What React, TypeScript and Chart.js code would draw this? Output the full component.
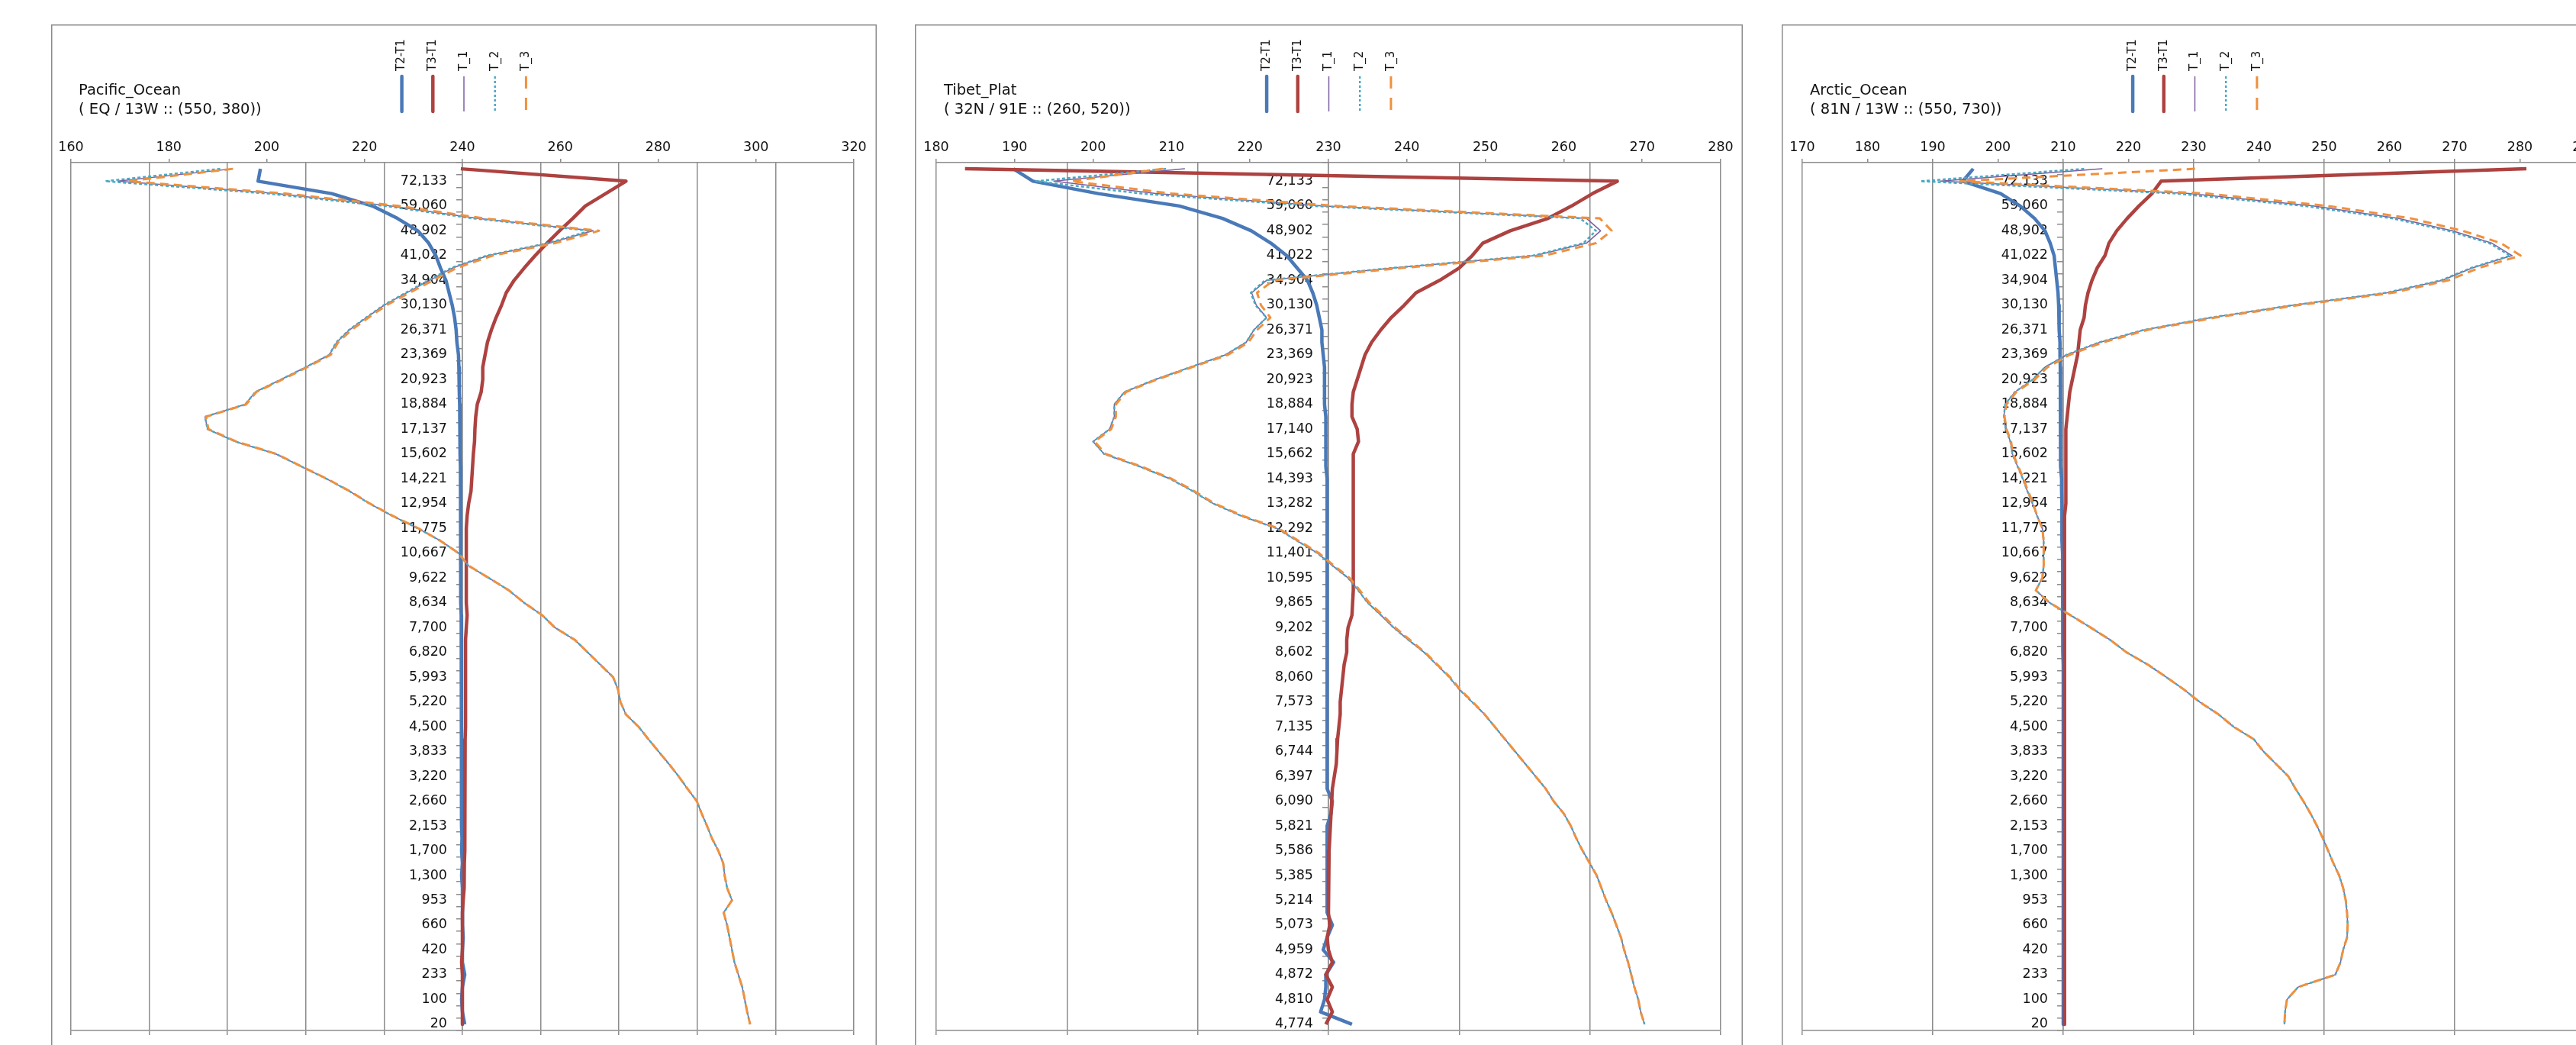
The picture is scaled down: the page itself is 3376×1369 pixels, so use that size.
import React, { useEffect, useRef } from "react";
import { Chart, registerables } from "chart.js";

Chart.register(...registerables);

const FONT = '"DejaVu Sans", Verdana, sans-serif';
const GRID = "#8c8c8c";
const TEXT = "#111111";
const BLUE = "#4a79b8";
const RED = "#ad4240";
const PURPLE = "#7d5fa0";
const CYAN = "#4aa8c2";
const ORANGE = "#f0903e";

// ---------- category tick labels (altitude, m) top -> bottom ----------
const pacificHeights = ["72,133","59,060","48,902","41,022","34,904","30,130","26,371","23,369","20,923","18,884","17,137","15,602","14,221","12,954","11,775","10,667","9,622","8,634","7,700","6,820","5,993","5,220","4,500","3,833","3,220","2,660","2,153","1,700","1,300","953","660","420","233","100","20"];
const tibetHeights = ["72,133","59,060","48,902","41,022","34,904","30,130","26,371","23,369","20,923","18,884","17,140","15,662","14,393","13,282","12,292","11,401","10,595","9,865","9,202","8,602","8,060","7,573","7,135","6,744","6,397","6,090","5,821","5,586","5,385","5,214","5,073","4,959","4,872","4,810","4,774"];
const arcticHeights = ["72,133","59,060","48,902","41,022","34,904","30,130","26,371","23,369","20,923","18,884","17,137","15,602","14,221","12,954","11,775","10,667","9,622","8,634","7,700","6,820","5,993","5,220","4,500","3,833","3,220","2,660","2,153","1,700","1,300","953","660","420","233","100","20"];

// ---------- Pacific_Ocean ----------
const pacT1 = [193.1,169.6,202.0,225.3,243.0,266.7,257.8,245.3,238.0,233.3,
228.6,224.0,220.4,216.9,214.3,212.8,208.0,202.9,197.7,195.6,
187.4,187.9,193.6,201.9,207.0,212.2,216.9,221.0,225.7,230.9,
235.5,239.2,241.2,245.4,249.5,252.6,256.3,258.9,263.0,265.6,
268.2,270.8,271.8,272.3,273.4,276.0,278.0,280.1,282.2,284.2,
286.0,287.9,288.9,290.0,291.0,292.3,293.3,293.6,294.1,295.1,
293.4,294.1,294.6,295.1,295.6,296.4,297.2,297.7,298.2,298.8];
const pacT2 = [190.5,167.0,200.3,224.2,242.2,266.1,257.4,245.0,237.7,233.1,
228.4,223.9,220.3,216.8,214.2,212.8,208.0,202.9,197.7,195.6,
187.4,187.9,193.6,201.9,207.0,212.2,216.9,221.0,225.7,230.9,
235.5,239.2,241.2,245.4,249.5,252.6,256.3,258.9,263.0,265.6,
268.2,270.8,271.8,272.3,273.4,276.0,278.0,280.1,282.2,284.2,
286.0,287.9,288.9,290.0,291.0,292.3,293.3,293.6,294.1,295.1,
293.4,294.1,294.6,295.1,295.6,296.4,297.2,297.7,298.2,298.8];
const pacT3 = [193.1,171.7,203.8,226.9,244.4,267.9,258.9,246.2,238.8,234.0,
229.2,224.5,220.8,217.3,214.6,213.1,208.3,203.2,197.9,195.8,
187.6,188.1,193.8,202.0,207.1,212.3,217.0,221.1,225.8,231.0,
235.5,239.2,241.2,245.4,249.5,252.6,256.3,258.9,263.0,265.6,
268.2,270.8,271.8,272.3,273.4,276.0,278.0,280.1,282.2,284.2,
286.0,287.9,288.9,290.0,291.0,292.3,293.3,293.6,294.1,295.1,
293.4,294.1,294.6,295.1,295.6,296.4,297.2,297.7,298.2,298.8];
const pacD21 = [-2.58,-2.61,-1.67,-1.15,-0.83,-0.57,-0.43,-0.34,-0.28,-0.21,
-0.17,-0.13,-0.10,-0.08,-0.07,-0.05,-0.045,-0.04,-0.04,-0.035,
-0.03,-0.03,-0.03,-0.03,-0.025,-0.025,-0.025,-0.02,-0.02,-0.02,
-0.02,-0.02,-0.02,-0.02,-0.02,-0.02,-0.015,-0.015,-0.015,-0.015,
-0.015,-0.01,-0.01,-0.01,-0.01,-0.01,-0.01,-0.01,-0.01,-0.01,
-0.01,-0.01,-0.01,-0.01,-0.005,-0.01,0.0,-0.01,0.0,0.0,
0.0,0.005,0.01,0.0,0.0,0.03,0.0,-0.01,0.0,0.03];
const pacD31 = [-0.02,2.09,1.83,1.57,1.41,1.24,1.08,0.93,0.79,0.66,
0.56,0.50,0.43,0.37,0.32,0.29,0.26,0.26,0.24,0.19,
0.17,0.16,0.155,0.14,0.13,0.12,0.11,0.08,0.06,0.05,
0.05,0.05,0.05,0.05,0.05,0.05,0.06,0.05,0.04,0.04,
0.04,0.04,0.04,0.04,0.04,0.04,0.035,0.035,0.035,0.03,
0.03,0.03,0.03,0.03,0.03,0.03,0.025,0.025,0.02,0.01,
0.0,0.0,0.0,0.0,-0.01,0.0,0.0,0.0,0.0,0.0];

// ---------- Tibet_Plat ----------
const tibT1 = [211.7,195.0,208.0,229.2,262.9,264.7,262.9,256.4,238.3,222.1,
220.2,220.8,222.1,220.5,219.5,216.9,212.4,207.9,204.0,202.7,
202.7,202.1,200.0,201.4,205.9,209.8,212.7,215.3,218.9,223.4,
226.0,228.6,230.5,232.5,233.8,235.0,236.7,238.3,240.2,242.2,
243.8,245.4,246.7,248.3,249.9,251.2,252.5,253.8,255.1,256.4,
257.7,258.7,260.0,260.9,261.6,262.4,263.3,264.2,264.8,265.4,
266.1,266.7,267.3,267.7,268.2,268.6,269.0,269.5,269.8,270.3];
const tibT2 = [209.3,192.7,206.2,228.1,262.1,264.1,262.5,256.1,238.1,221.9,
220.1,220.7,222.1,220.5,219.5,216.9,212.4,207.9,204.0,202.7,
202.7,202.1,200.0,201.4,205.9,209.8,212.7,215.3,218.9,223.4,
226.0,228.6,230.5,232.5,233.8,235.0,236.7,238.3,240.2,242.2,
243.8,245.4,246.7,248.3,249.9,251.2,252.5,253.8,255.1,256.4,
257.7,258.7,260.0,260.9,261.6,262.4,263.3,264.2,264.8,265.4,
266.1,266.7,267.3,267.7,268.2,268.6,269.0,269.5,269.8,270.3];
const tibT3 = [208.9,197.2,210.0,231.1,264.6,266.1,264.1,257.5,239.3,223.0,
220.9,221.4,222.6,220.9,219.8,217.2,212.6,208.1,204.2,202.9,
202.9,202.3,200.2,201.6,206.1,210.0,212.9,215.5,219.1,223.6,
226.2,228.8,230.7,232.7,234.0,235.2,236.9,238.5,240.4,242.3,
243.9,245.5,246.8,248.4,249.9,251.2,252.5,253.8,255.1,256.4,
257.7,258.7,260.0,260.9,261.6,262.4,263.3,264.2,264.8,265.4,
266.1,266.7,267.3,267.7,268.2,268.6,269.0,269.5,269.8,270.3];
const tibD21 = [-2.41,-2.26,-1.76,-1.14,-0.81,-0.59,-0.44,-0.32,-0.24,-0.16,
-0.12,-0.09,-0.07,-0.05,-0.05,-0.04,-0.03,-0.03,-0.03,-0.03,
-0.02,-0.02,-0.02,-0.02,-0.02,-0.01,-0.01,-0.01,-0.01,-0.01,
-0.01,-0.01,-0.01,-0.01,-0.01,-0.01,-0.01,-0.01,-0.01,-0.01,
-0.01,-0.01,-0.01,-0.01,-0.01,-0.01,-0.01,-0.01,-0.01,-0.01,
-0.01,0.03,0.02,-0.01,-0.01,-0.01,-0.01,-0.01,-0.01,-0.01,
-0.01,0.03,-0.01,-0.04,0.04,-0.02,-0.02,-0.03,-0.06,0.18];
const tibD31 = [-2.78,2.21,2.02,1.86,1.68,1.39,1.18,1.10,1.00,0.85,
0.67,0.58,0.48,0.40,0.33,0.28,0.25,0.22,0.19,0.18,
0.18,0.22,0.23,0.19,0.19,0.19,0.19,0.19,0.19,0.19,
0.19,0.19,0.19,0.19,0.19,0.185,0.18,0.15,0.14,0.14,
0.12,0.11,0.10,0.09,0.09,0.08,0.07,0.065,0.06,0.045,
0.03,0.025,0.02,0.015,0.01,0.005,0.0,0.0,0.0,0.0,
0.0,0.01,-0.01,0.0,0.03,-0.02,0.03,-0.01,0.03,-0.02];

// ---------- Arctic_Ocean ----------
const arcT1 = [216.0,191.2,229.3,248.3,261.3,269.6,275.7,278.8,272.7,268.1,
259.7,245.3,232.7,222.4,215.6,210.6,207.2,205.3,202.6,201.1,
200.9,201.2,201.9,202.2,203.0,203.8,204.5,205.3,206.0,206.8,
207.0,207.0,207.0,206.8,205.8,207.9,211.1,214.2,217.2,219.7,
223.0,225.8,228.5,230.9,233.8,236.1,239.2,240.7,242.6,244.5,
245.6,246.8,247.9,248.9,249.8,250.6,251.4,252.3,252.9,253.3,
253.5,253.6,253.5,252.9,252.5,251.7,246.0,244.3,244.0,243.9];
const arcT2 = [213.2,188.1,227.4,247.0,260.4,269.0,275.3,278.5,272.5,267.9,
259.5,245.2,232.6,222.3,215.5,210.5,207.2,205.3,202.6,201.1,
200.9,201.2,201.9,202.2,203.0,203.8,204.5,205.3,206.0,206.8,
207.0,207.0,207.0,206.8,205.8,207.9,211.1,214.2,217.2,219.7,
223.0,225.8,228.5,230.9,233.8,236.1,239.2,240.7,242.6,244.5,
245.6,246.8,247.9,248.9,249.8,250.6,251.4,252.3,252.9,253.3,
253.5,253.6,253.5,252.9,252.5,251.7,246.0,244.3,244.0,243.9];
const arcT3 = [230.2,194.2,232.0,250.6,263.3,271.2,277.1,280.1,273.7,269.0,
260.5,246.0,233.3,222.9,216.1,211.0,207.6,205.6,202.8,201.3,
201.0,201.3,202.0,202.3,203.1,203.9,204.6,205.4,206.0,206.8,
207.0,207.0,207.0,206.8,205.8,207.9,211.1,214.2,217.2,219.7,
223.0,225.8,228.5,230.9,233.8,236.1,239.2,240.7,242.6,244.5,
245.6,246.8,247.9,248.9,249.8,250.6,251.4,252.3,252.9,253.3,
253.5,253.6,253.5,252.9,252.5,251.7,246.0,244.3,244.0,243.9];
const arcD21 = [-2.76,-3.08,-1.92,-1.32,-0.88,-0.56,-0.40,-0.28,-0.24,-0.20,
-0.16,-0.14,-0.13,-0.12,-0.10,-0.10,-0.09,-0.09,-0.08,-0.08,
-0.08,-0.08,-0.08,-0.08,-0.08,-0.05,-0.05,-0.04,-0.04,-0.04,
-0.04,-0.02,-0.02,-0.02,-0.02,-0.01,-0.01,-0.01,-0.01,-0.01,
0,0,0,0,0,0,0,0,0,0,
0,0,0,0,0,0,0,0,0,0,
0,0,0,0,0,0,0,0,0,0];
const arcD31 = [14.2,3.0,2.72,2.32,1.96,1.64,1.40,1.28,1.04,0.88,
0.76,0.68,0.64,0.52,0.48,0.44,0.36,0.28,0.20,0.16,
0.12,0.08,0.08,0.08,0.08,0.08,0.08,0.08,0.04,0.04,
0.04,0.04,0.04,0.04,0.04,0.04,0.04,0.04,0.04,0.04,
0.04,0.04,0.04,0.04,0.04,0.04,0.04,0.04,0.04,0.04,
0.04,0.04,0.04,0.04,0.04,0.04,0.04,0.04,0.04,0.04,
0.04,0.04,0.04,0.04,0.04,0.04,0.04,0.04,0.04,0.04];

const seriesNames = ["T2-T1", "T3-T1", "T_1", "T_2", "T_3"];

type PanelDef = {
  title: string;
  subtitle: string;
  heights: string[];
  t1: number[]; t2: number[]; t3: number[];
  d21: number[]; d31: number[];
  dMin: number; dMax: number; dStep: number;
  tMin: number; tMax: number; tStep: number;
  left: number; width: number;
  padL: number; padR: number; titleX: number;
};

const PANELS: PanelDef[] = [
  { title: "Pacific_Ocean", subtitle: "( EQ / 13W :: (550, 380))", heights: pacificHeights,
    t1: pacT1, t2: pacT2, t3: pacT3, d21: pacD21, d31: pacD31,
    dMin: -5, dMax: 5, dStep: 1, tMin: 160, tMax: 320, tStep: 20,
    left: 67, width: 1082, padL: 26, padR: 30, titleX: 36 },
  { title: "Tibet_Plat", subtitle: "( 32N / 91E :: (260, 520))", heights: tibetHeights,
    t1: tibT1, t2: tibT2, t3: tibT3, d21: tibD21, d31: tibD31,
    dMin: -3, dMax: 3, dStep: 1, tMin: 180, tMax: 280, tStep: 10,
    left: 1199, width: 1085, padL: 28, padR: 29, titleX: 38 },
  { title: "Arctic_Ocean", subtitle: "( 81N / 13W :: (550, 730))", heights: arcticHeights,
    t1: arcT1, t2: arcT2, t3: arcT3, d21: arcD21, d31: arcD31,
    dMin: -8, dMax: 16, dStep: 4, tMin: 170, tMax: 290, tStep: 10,
    left: 2335, width: 1083, padL: 27, padR: 30, titleX: 37 },
];

const TOP = 32;
const H = 1345;
const LABEL_GAP = 20;

const legendStyles = [
  { color: BLUE, width: 4.5, dash: [] as number[], cap: "round" },
  { color: RED, width: 4.5, dash: [] as number[], cap: "round" },
  { color: PURPLE, width: 1.5, dash: [] as number[], cap: "butt" },
  { color: CYAN, width: 2.5, dash: [3, 3], cap: "butt" },
  { color: ORANGE, width: 3, dash: [16, 12], cap: "butt" },
];

function toCategories(heights: string[]): string[] {
  const out: string[] = [];
  heights.forEach((h) => { out.push(""); out.push(h); });
  return out;
}

function PanelChart({ p }: { p: PanelDef }) {
  const ref = useRef<HTMLCanvasElement>(null);
  useEffect(() => {
    const canvas = ref.current;
    if (!canvas) return;
    const cats = toCategories(p.heights);
    const decor = {
      id: "decor",
      beforeDraw(chart: any) {
        const ctx = chart.ctx;
        ctx.save();
        ctx.fillStyle = "#ffffff";
        ctx.fillRect(0, 0, chart.width, chart.height);
        ctx.restore();
      },
      afterDraw(chart: any) {
        const ctx = chart.ctx;
        ctx.save();
        ctx.strokeStyle = GRID;
        ctx.lineWidth = 1.5;
        ctx.strokeRect(0.75, 0.75, chart.width - 1.5, chart.height + 20);
        ctx.fillStyle = TEXT;
        ctx.font = `19.5px ${FONT}`;
        ctx.textAlign = "left";
        ctx.textBaseline = "middle";
        ctx.fillText(p.title, p.titleX, 87);
        ctx.fillText(p.subtitle, p.titleX, 112);
        const cx = chart.width / 2;
        seriesNames.forEach((name, i) => {
          const st = legendStyles[i];
          const x = cx + (i - 2) * 40.7;
          ctx.save();
          ctx.strokeStyle = st.color;
          ctx.lineWidth = st.width;
          ctx.lineCap = st.cap;
          ctx.setLineDash(st.dash);
          ctx.beginPath();
          ctx.moveTo(x, 68);
          ctx.lineTo(x, 114);
          ctx.stroke();
          ctx.restore();
          ctx.save();
          ctx.translate(x, 61);
          ctx.rotate(-Math.PI / 2);
          ctx.fillStyle = TEXT;
          ctx.font = `15px ${FONT}`;
          ctx.textAlign = "left";
          ctx.textBaseline = "middle";
          ctx.fillText(name, 0, 0);
          ctx.restore();
        });
        ctx.restore();
      },
    };
    const common = { pointRadius: 0, pointHoverRadius: 0, tension: 0, fill: false, borderJoinStyle: "round" as const };
    const chart = new Chart(canvas, {
      type: "line",
      data: {
        labels: cats,
        datasets: [
          { ...common, label: seriesNames[0], data: p.d21, xAxisID: "x", borderColor: BLUE, borderWidth: 4.5, order: 5 },
          { ...common, label: seriesNames[1], data: p.d31, xAxisID: "x", borderColor: RED, borderWidth: 4.5, order: 4 },
          { ...common, label: seriesNames[2], data: p.t1, xAxisID: "x2", borderColor: PURPLE, borderWidth: 1.5, order: 3 },
          { ...common, label: seriesNames[3], data: p.t2, xAxisID: "x2", borderColor: CYAN, borderWidth: 2.5, borderDash: [4, 3], order: 2 },
          { ...common, label: seriesNames[4], data: p.t3, xAxisID: "x2", borderColor: ORANGE, borderWidth: 3, borderDash: [11, 7], order: 1 },
        ],
      },
      options: {
        indexAxis: "y",
        animation: false,
        responsive: false,
        devicePixelRatio: 1,
        layout: { padding: { left: p.padL, right: p.padR, top: 141, bottom: 19 } },
        plugins: { legend: { display: false }, tooltip: { enabled: false } },
        scales: {
          y: {
            type: "category",
            position: { x: 0 } as any,
            offset: true,
            grid: { drawOnChartArea: false, drawTicks: true, tickLength: 7, color: GRID, lineWidth: 1.5, offset: true },
            border: { display: true, color: GRID, width: 1.5 },
            ticks: {
              autoSkip: false,
              padding: 13,
              color: TEXT,
              font: { family: FONT, size: 17.5 },
              callback: (_v: any, i: number) => cats[i],
            },
            afterUpdate: (scale: any) => {
              if (scale.__shifted) return;
              const orig = scale._computeLabelItems.bind(scale);
              scale._computeLabelItems = (ca: any) => {
                const items = orig(ca);
                items.forEach((it: any) => {
                  const tr = it.options.translation;
                  it.options.translation = [tr[0] - LABEL_GAP, tr[1]];
                });
                return items;
              };
              scale.__shifted = true;
            },
          },
          x: {
            type: "linear",
            position: "bottom",
            min: p.dMin,
            max: p.dMax,
            ticks: { stepSize: p.dStep, display: false },
            grid: { color: GRID, lineWidth: 1.5, tickLength: 6, drawTicks: true },
            border: { display: true, color: GRID, width: 1.5 },
            afterFit: (s: any) => { s.height = 8; },
          },
          x2: {
            type: "linear",
            position: "top",
            min: p.tMin,
            max: p.tMax,
            ticks: { stepSize: p.tStep, color: TEXT, padding: 4, maxRotation: 0, autoSkip: false, font: { family: FONT, size: 17.5 } },
            grid: { drawOnChartArea: false, tickLength: 5, color: GRID, lineWidth: 1.5 },
            border: { display: true, color: GRID, width: 1.5 },
            afterFit: (s: any) => { s.height = 40; },
          },
        },
      } as any,
      plugins: [decor as any],
    });
    return () => chart.destroy();
  }, [p]);
  return (
    <canvas
      ref={ref}
      width={p.width}
      height={H}
      style={{ position: "absolute", left: p.left, top: TOP, width: p.width, height: H, display: "block" }}
    />
  );
}

export default function App() {
  return (
    <div style={{ position: "fixed", left: 0, top: 0, width: 3376, height: 1369, overflow: "hidden", background: "#ffffff" }}>
      {PANELS.map((p, i) => (
        <PanelChart key={i} p={p} />
      ))}
    </div>
  );
}
